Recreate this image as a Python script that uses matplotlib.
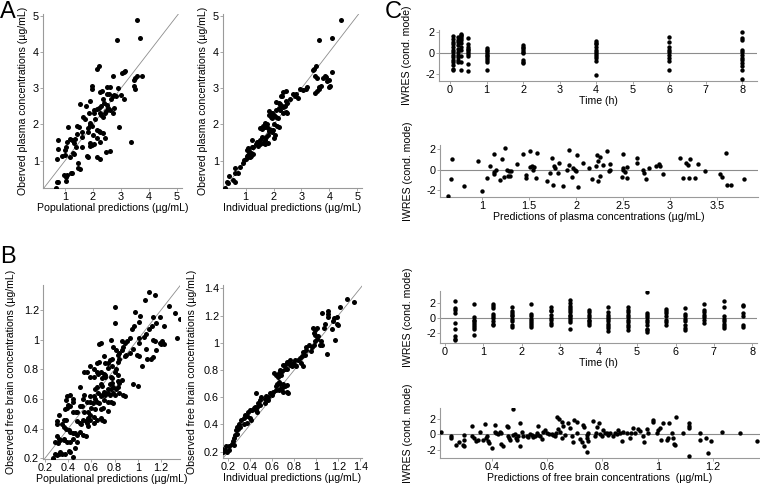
import numpy as np
import matplotlib
matplotlib.use('Agg')
import matplotlib.pyplot as plt
from matplotlib.ticker import FuncFormatter

plt.rcParams['font.family'] = ['Liberation Sans', 'DejaVu Sans']
plt.rcParams['font.size'] = 7.6
plt.rcParams['axes.unicode_minus'] = False

# ---- panel A: plasma, (prediction, observed) ----
a1_pairs = [
    (3.58, 4.89), (3.69, 4.40), (2.86, 4.33), (2.20, 3.61), (2.13, 3.54), (3.16, 3.49), (3.10, 3.45),
    (3.03, 3.43), (3.57, 3.33), (3.51, 3.27), (3.76, 3.35), (3.46, 3.24), (2.72, 3.33), (1.98, 3.07),
    (1.98, 2.98), (2.51, 3.03), (2.61, 3.03), (2.31, 2.92), (2.25, 2.89), (2.88, 3.00), (3.46, 3.07),
    (3.49, 2.98), (2.51, 2.84), (2.57, 2.84), (2.70, 2.80), (2.76, 2.82), (2.82, 2.80), (3.00, 2.82),
    (3.10, 2.69), (1.53, 2.56), (1.89, 2.64), (1.75, 2.52), (2.37, 2.70), (2.20, 2.45), (2.15, 2.42),
    (2.05, 2.40), (2.55, 2.45), (2.60, 2.40), (2.75, 2.45), (1.86, 2.31), (2.03, 2.33), (2.72, 2.31),
    (2.24, 2.31), (2.30, 2.27), (2.42, 2.31), (2.35, 2.20), (1.65, 2.22), (1.71, 2.16), (2.45, 2.36),
    (2.30, 2.50), (1.44, 1.96), (1.50, 1.94), (1.10, 1.93), (1.89, 1.99), (1.95, 1.96), (1.83, 1.90),
    (2.93, 1.94), (2.13, 1.85), (2.20, 1.82), (2.24, 1.78), (1.44, 1.74), (1.59, 1.79), (1.83, 1.78),
    (2.00, 1.71), (2.36, 1.76), (1.59, 1.65), (2.13, 1.62), (2.42, 1.64), (1.18, 1.59), (1.24, 1.57),
    (1.06, 1.53), (1.32, 1.50), (0.76, 1.56), (1.89, 1.48), (1.98, 1.43), (2.05, 1.45), (3.37, 1.53),
    (2.24, 1.53), (1.04, 1.39), (1.41, 1.39), (1.89, 1.41), (1.62, 1.39), (0.76, 1.31), (1.00, 1.30),
    (1.30, 1.20), (1.32, 1.19), (0.88, 1.13), (1.00, 1.16), (1.18, 1.11), (1.77, 1.13), (1.83, 1.11),
    (2.13, 1.09), (2.24, 1.04), (0.70, 1.04), (2.48, 1.25), (2.60, 1.27), (1.47, 0.95), (1.45, 0.79),
    (1.53, 0.77), (1.20, 0.65), (1.26, 0.67), (1.06, 0.60), (0.96, 0.60), (1.02, 0.56), (1.02, 0.44),
    (0.70, 0.42), (0.74, 0.40), (0.68, 0.26), (1.90, 2.05), (2.08, 2.15), (2.50, 2.55), (2.40, 2.60),
    (2.65, 2.70), (1.35, 1.60),
]

a2_pairs = [
    (4.40, 4.89), (4.08, 4.40), (3.63, 4.33), (3.52, 3.61), (3.45, 3.54), (3.40, 3.50), (4.10, 3.44),
    (3.86, 3.33), (3.77, 3.29), (3.89, 3.31), (3.98, 3.24), (3.93, 3.19), (3.50, 3.33), (3.57, 3.27),
    (3.63, 3.04), (3.70, 3.07), (3.98, 3.04), (4.04, 3.07), (3.50, 2.87), (3.56, 2.92), (3.63, 2.98),
    (3.21, 3.04), (3.18, 2.98), (2.94, 2.98), (3.06, 2.94), (2.76, 2.80), (2.70, 2.84), (2.82, 2.84),
    (2.58, 2.70), (2.88, 2.73), (2.35, 2.89), (2.44, 2.92), (2.25, 2.80), (2.31, 2.78), (2.10, 2.61),
    (2.18, 2.59), (2.23, 2.57), (2.44, 2.64), (2.49, 2.59), (2.29, 2.52), (2.35, 2.48), (2.40, 2.50),
    (2.44, 2.34), (2.49, 2.31), (2.35, 2.31), (2.10, 2.41), (2.18, 2.45), (2.23, 2.41), (1.96, 2.31),
    (2.02, 2.27), (1.85, 2.27), (1.89, 2.22), (1.93, 2.18), (1.85, 2.36), (1.93, 2.33), (2.10, 2.22),
    (2.17, 2.18), (2.13, 1.96), (2.20, 1.93), (2.01, 2.02), (1.71, 2.04), (1.77, 2.00), (1.63, 1.96),
    (1.69, 1.93), (1.60, 1.90), (1.51, 1.90), (1.57, 1.87), (1.81, 1.90), (1.89, 1.85), (1.85, 1.81),
    (1.99, 1.85), (1.93, 1.78), (2.05, 1.71), (2.01, 1.62), (1.81, 1.71), (1.73, 1.65), (1.69, 1.57),
    (1.57, 1.65), (1.51, 1.57), (1.45, 1.53), (1.81, 1.50), (1.63, 1.48), (1.69, 1.46), (1.51, 1.46),
    (1.45, 1.41), (1.39, 1.53), (1.37, 1.46), (1.21, 1.56), (1.27, 1.39), (1.21, 1.37), (1.10, 1.34),
    (1.04, 1.30), (1.13, 1.28), (1.18, 1.22), (1.13, 1.19), (1.07, 1.16), (1.25, 1.19), (1.19, 1.13),
    (1.15, 1.09), (1.10, 1.11), (1.04, 1.13), (1.01, 1.04), (0.94, 1.02), (0.89, 0.93), (0.80, 0.83),
    (0.62, 0.79), (0.74, 0.67), (0.60, 0.65), (0.42, 0.57), (0.54, 0.46), (0.32, 0.42), (0.35, 0.39),
    (0.26, 0.26), (0.60, 0.42),
]

# ---- panel B: free brain, (prediction, observed) ----
b1_pairs = [
    (1.10, 1.32), (1.15, 1.30), (1.06, 1.27), (1.27, 1.23), (0.80, 1.22), (1.32, 1.18), (0.98, 1.19),
    (1.19, 1.15), (1.13, 1.15), (1.02, 1.16), (0.80, 1.11), (1.01, 1.12), (1.36, 1.14), (0.97, 1.09),
    (1.12, 1.09), (1.23, 1.09), (1.16, 1.11), (1.10, 1.07), (0.95, 1.07), (1.05, 1.02), (1.07, 1.04),
    (1.01, 1.01), (1.34, 1.01), (0.93, 1.01), (0.91, 0.99), (0.77, 1.00), (0.86, 0.99), (0.89, 0.98),
    (0.68, 0.98), (1.01, 0.98), (1.13, 1.00), (1.15, 0.99), (1.21, 0.99), (1.20, 0.97), (1.19, 0.98),
    (1.23, 0.97), (0.67, 0.97), (0.79, 0.95), (0.81, 0.93), (0.87, 0.95), (0.86, 0.93), (0.96, 0.94),
    (1.07, 0.94), (1.16, 0.93), (0.71, 0.89), (0.83, 0.90), (0.84, 0.91), (0.89, 0.89), (0.90, 0.90),
    (0.93, 0.91), (0.99, 0.90), (1.01, 0.89), (0.78, 0.87), (0.76, 0.86), (0.67, 0.85), (0.65, 0.84),
    (0.72, 0.84), (0.74, 0.84), (0.84, 0.87), (0.83, 0.85), (1.08, 0.87), (1.11, 0.87), (1.13, 0.88),
    (1.04, 0.82), (0.59, 0.82), (0.62, 0.80), (0.54, 0.78), (0.56, 0.78), (0.65, 0.78), (0.66, 0.77),
    (0.68, 0.78), (0.71, 0.77), (0.72, 0.76), (0.80, 0.78), (0.81, 0.80), (0.74, 0.81), (0.78, 0.82),
    (0.59, 0.75), (0.62, 0.75), (0.69, 0.74), (0.72, 0.75), (0.77, 0.75), (0.78, 0.74), (0.83, 0.76),
    (0.83, 0.72), (0.84, 0.71), (0.86, 0.73), (0.68, 0.70), (0.69, 0.69), (0.76, 0.70), (0.78, 0.71),
    (0.96, 0.70), (1.00, 0.69), (0.50, 0.68), (0.63, 0.67), (0.65, 0.68), (0.74, 0.67), (0.77, 0.67),
    (0.79, 0.68), (0.81, 0.67), (0.83, 0.68), (0.71, 0.65), (0.72, 0.64), (0.72, 0.63), (0.74, 0.64),
    (0.76, 0.63), (0.79, 0.64), (0.80, 0.63), (0.84, 0.64), (0.87, 0.63), (0.89, 0.62), (0.42, 0.63),
    (0.44, 0.60), (0.38, 0.59), (0.39, 0.62), (0.54, 0.63), (0.53, 0.60), (0.59, 0.62), (0.62, 0.62),
    (0.63, 0.60), (0.66, 0.64), (0.68, 0.62), (0.69, 0.63), (0.56, 0.58), (0.59, 0.58), (0.61, 0.57),
    (0.65, 0.58), (0.67, 0.57), (0.71, 0.59), (0.74, 0.58), (0.77, 0.58), (0.79, 0.57), (0.44, 0.58),
    (0.42, 0.55), (0.40, 0.56), (0.50, 0.55), (0.52, 0.55), (0.39, 0.54), (0.37, 0.53), (0.47, 0.51),
    (0.48, 0.51), (0.44, 0.51), (0.54, 0.51), (0.57, 0.51), (0.60, 0.54), (0.63, 0.53), (0.68, 0.53),
    (0.70, 0.54), (0.74, 0.52), (0.59, 0.49), (0.59, 0.46), (0.57, 0.47), (0.62, 0.48), (0.65, 0.46),
    (0.68, 0.47), (0.69, 0.46), (0.71, 0.45), (0.53, 0.46), (0.55, 0.45), (0.48, 0.45), (0.50, 0.44),
    (0.51, 0.43), (0.36, 0.46), (0.38, 0.46), (0.32, 0.49), (0.30, 0.45), (0.30, 0.43), (0.35, 0.43),
    (0.56, 0.44), (0.57, 0.42), (0.62, 0.44), (0.36, 0.41), (0.38, 0.40), (0.41, 0.39), (0.42, 0.38),
    (0.44, 0.37), (0.46, 0.37), (0.48, 0.36), (0.50, 0.38), (0.53, 0.36), (0.55, 0.35), (0.44, 0.33),
    (0.42, 0.31), (0.30, 0.35), (0.32, 0.33), (0.33, 0.32), (0.36, 0.33), (0.36, 0.32), (0.29, 0.31),
    (0.31, 0.30), (0.39, 0.31), (0.46, 0.27), (0.32, 0.23), (0.33, 0.24), (0.35, 0.23), (0.37, 0.23),
    (0.29, 0.23), (0.30, 0.22), (0.41, 0.25), (0.42, 0.24), (0.44, 0.21), (0.27, 0.20), (0.27, 0.19),
    (0.48, 0.31),
]

b2_pairs = [
    (1.34, 1.30), (1.28, 1.32), (1.22, 1.26), (1.05, 1.22), (1.11, 1.23), (1.11, 1.21), (1.11, 1.19),
    (1.16, 1.18), (1.19, 1.19), (1.15, 1.16), (1.14, 1.10), (1.19, 1.14), (1.20, 1.13), (1.08, 1.14),
    (1.07, 1.11), (0.97, 1.11), (0.99, 1.09), (1.01, 1.11), (0.98, 1.07), (0.99, 1.06), (1.01, 1.03),
    (1.02, 1.05), (1.04, 1.01), (1.05, 0.98), (1.03, 0.98), (0.99, 1.01), (0.98, 0.98), (0.96, 0.97),
    (0.93, 0.98), (0.91, 0.97), (0.91, 0.95), (1.17, 1.02), (1.10, 0.92), (0.95, 0.94), (0.88, 0.93),
    (0.90, 0.91), (0.87, 0.90), (0.85, 0.89), (0.83, 0.87), (0.81, 0.87), (0.79, 0.85), (0.81, 0.84),
    (0.82, 0.83), (0.78, 0.83), (0.76, 0.84), (0.75, 0.85), (0.76, 0.87), (0.73, 0.86), (0.72, 0.84),
    (0.73, 0.81), (0.72, 0.81), (0.67, 0.80), (0.69, 0.79), (0.70, 0.84), (0.66, 0.78), (0.64, 0.76),
    (0.63, 0.76), (0.65, 0.75), (0.66, 0.71), (0.67, 0.70), (0.64, 0.70), (0.63, 0.68), (0.70, 0.70),
    (0.72, 0.68), (0.73, 0.69), (0.69, 0.67), (0.67, 0.66), (0.66, 0.65), (0.73, 0.64), (0.74, 0.63),
    (0.70, 0.64), (0.61, 0.64), (0.63, 0.65), (0.58, 0.63), (0.60, 0.62), (0.56, 0.60), (0.54, 0.61),
    (0.53, 0.59), (0.50, 0.60), (0.49, 0.58), (0.56, 0.58), (0.53, 0.56), (0.47, 0.56), (0.49, 0.54),
    (0.46, 0.53), (0.44, 0.53), (0.43, 0.52), (0.42, 0.51), (0.45, 0.51), (0.46, 0.49), (0.40, 0.51),
    (0.38, 0.49), (0.35, 0.47), (0.37, 0.46), (0.34, 0.45), (0.32, 0.43), (0.40, 0.45), (0.41, 0.43),
    (0.37, 0.41), (0.34, 0.40), (0.30, 0.40), (0.31, 0.38), (0.29, 0.37), (0.28, 0.38), (0.27, 0.36),
    (0.28, 0.33), (0.26, 0.32), (0.25, 0.30), (0.24, 0.28), (0.23, 0.26), (0.25, 0.25), (0.21, 0.24),
    (0.18, 0.24), (0.17, 0.21), (0.14, 0.22), (0.15, 0.20), (0.19, 0.20), (0.21, 0.21), (0.45, 0.63),
    (0.68, 0.76), (0.62, 0.78), (0.86, 0.85), (0.88, 0.83),
]

# ---- panel C: IWRES ----
c1_times = [0.083, 0.22, 0.3, 0.5, 1, 2, 4, 6, 8]
c1_iwres = [
    [1.61, 1.39, 1.06, 0.90, 0.58, 0.32, 0.10, -0.13, -0.39, -0.61, -0.84, -1.16, -1.48, -1.65],
    [1.55, 1.29, 1.06, 0.74, 0.42, 0.10, -0.13, -0.39, -0.61, -0.84],
    [1.87, 1.77, 1.61, 1.45, 1.23, 0.97, 0.58, 0.26, -0.23, -0.87, -1.60],
    [1.48, 0.84, 0.58, 0.42, 0.26, 0.10, -0.06, -0.23, -1.03, -1.74],
    [0.48, 0.32, 0.16, 0.00, -0.16, -0.32, -0.45, -0.65, -0.87, -1.58],
    [0.77, 0.61, 0.45, 0.29, 0.13, -0.03, -0.67, -0.83, -0.99],
    [1.18, 1.02, 0.86, 0.61, 0.35, 0.13, -0.10, -0.29, -0.51, -0.77, -2.08],
    [1.57, 1.09, 0.61, 0.29, 0.13, -0.19, -0.45, -0.77, -1.57],
    [2.05, 1.41, 1.25, 0.29, 0.13, -0.19, -0.45, -0.67, -0.99, -1.25, -1.63, -2.50],
]

c2_pairs = [
    (0.63, -2.54), (0.67, -0.88), (0.68, 1.01), (0.80, -1.56), (0.95, 0.81), (1.00, -2.08), (1.05, -0.85),
    (1.08, 0.33), (1.12, 1.50), (1.12, -0.23), (1.13, -0.39), (1.15, -0.07), (1.19, -1.07), (1.21, 1.07),
    (1.24, 2.11), (1.23, -0.72), (1.26, 0.00), (1.27, -0.65), (1.30, -0.62), (1.29, -0.16), (1.31, -0.16),
    (1.37, 0.52), (1.43, 1.53), (1.47, -0.55), (1.47, -0.81), (1.51, 0.26), (1.51, 1.79), (1.53, 0.33),
    (1.54, -0.07), (1.55, 0.26), (1.57, -0.81), (1.58, 1.59), (1.69, -1.11), (1.72, -0.33), (1.74, 1.14),
    (1.76, 0.33), (1.77, 0.10), (1.75, -1.53), (1.81, -0.33), (1.82, 0.59), (1.86, -1.63), (1.90, -0.07),
    (1.92, 0.42), (1.92, 1.95), (1.96, -0.75), (1.97, 0.10), (1.99, 0.00), (2.00, -0.13), (2.01, 1.37),
    (2.02, -1.69), (2.07, 0.65), (2.14, 0.16), (2.17, -0.91), (2.21, 0.33), (2.22, 1.46), (2.23, 0.85),
    (2.23, -1.14), (2.26, 1.24), (2.26, -0.59), (2.29, 0.42), (2.33, 1.76), (2.35, -0.16), (2.36, 0.49),
    (2.36, 0.00), (2.50, 0.00), (2.52, -0.23), (2.50, 0.10), (2.50, 1.56), (2.49, -0.72), (2.54, 0.20),
    (2.54, -0.81), (2.65, 1.17), (2.65, 0.68), (2.71, -0.07), (2.72, -0.33), (2.75, -0.94), (2.78, 0.16),
    (2.85, 0.33), (2.88, 0.49), (2.90, 0.33), (2.93, -0.46), (3.11, 1.14), (3.14, -0.81), (3.17, 0.65),
    (3.19, 0.42), (3.20, -0.81), (3.21, 1.04), (3.27, -0.78), (3.30, 0.52), (3.38, -0.16), (3.53, -0.42),
    (3.56, -0.72), (3.60, 1.63), (3.61, -1.53), (3.65, -1.53), (3.79, -0.88),
]

c3_times = [0.25, 0.75, 1.25, 1.75, 2.25, 2.75, 3.25, 3.75, 4.25, 4.75, 5.25, 5.75, 6.25, 6.75, 7.25, 7.75]
c3_iwres = [
    [2.26, 1.30, 1.00, 0.65, -0.65, -1.43, -2.39, -2.70, -2.91],
    [1.83, 0.09, -0.22, -0.43, -0.65, -0.91, -1.17, -1.43, -2.26],
    [1.83, 1.61, 1.30, 0.52, 0.30, 0.00, -0.43, -0.74, -0.96],
    [1.39, 0.96, 0.65, 0.43, 0.22, -0.13, -0.43, -0.87, -1.17],
    [1.83, 0.52, 0.22, -0.13, -0.43, -0.65, -0.87, -1.17],
    [1.39, 1.09, 0.87, 0.43, 0.00, -0.30, -0.65, -0.87],
    [2.30, 1.96, 1.61, 1.30, 1.00, 0.74, 0.43, 0.22, 0.00, -0.30, -0.57, -1.43],
    [1.00, 0.74, 0.43, 0.13, -0.22, -0.43, -0.65, -0.87],
    [1.39, 0.74, 0.43, 0.13, -0.13, -0.43, -0.74, -1.09, -1.35, -1.65],
    [1.39, 1.09, 0.74, 0.43, 0.13, -0.22, -0.57, -0.87, -1.17, -1.52],
    [3.35, 0.65, 0.35, 0.09, -0.22, -0.57, -0.87, -1.39, -1.61, -1.83],
    [1.17, 0.87, 0.65, 0.22, -0.22, -0.52, -0.87],
    [1.30, 0.57, 0.22, -0.13, -0.43, -0.87, -1.30, -1.61],
    [1.83, 1.00, 0.74, 0.43, 0.13, -0.22, -0.65],
    [2.26, 1.39, 0.22, -0.13, -0.43, -0.74, -1.00, -1.30],
    [1.74, 1.52, 0.65, 0.22, -0.87, -1.17],
]

c4_pairs = [
    (0.217, 0.39), (0.252, -0.26), (0.252, -0.48), (0.271, -1.43), (0.280, -1.04), (0.295, -1.39),
    (0.301, -1.48), (0.301, -0.13), (0.301, -0.70), (0.328, 1.13), (0.328, -0.17), (0.336, -0.48),
    (0.343, -0.91), (0.352, -0.70), (0.358, 0.39), (0.370, -0.70), (0.376, 1.35), (0.380, -0.48),
    (0.384, -0.26), (0.388, -0.91), (0.390, -1.13), (0.402, -1.74), (0.410, 1.26), (0.412, 0.30),
    (0.416, 0.17), (0.424, 0.09), (0.430, 0.39), (0.434, 0.26), (0.434, -1.26), (0.442, -1.48),
    (0.454, 1.13), (0.457, 0.96), (0.458, -0.17), (0.464, -0.48), (0.466, -0.78), (0.478, 3.35),
    (0.476, -0.09), (0.484, 0.09), (0.488, -0.48), (0.490, -0.70), (0.496, -0.17), (0.502, 1.48),
    (0.502, -1.57), (0.508, 0.39), (0.514, -0.26), (0.526, -0.17), (0.532, -0.35), (0.538, 0.09),
    (0.544, -0.04), (0.550, -0.35), (0.556, -0.17), (0.562, 0.26), (0.568, -0.04), (0.568, 1.13),
    (0.574, -0.26), (0.580, -0.61), (0.586, 0.39), (0.593, 0.61), (0.599, 0.17), (0.608, 0.09),
    (0.617, 0.09), (0.623, -0.04), (0.629, -0.17), (0.632, 0.17), (0.637, 2.35), (0.643, 2.00),
    (0.641, 0.70), (0.647, 0.39), (0.653, 1.70), (0.655, -0.48), (0.659, 1.13), (0.665, -0.04),
    (0.677, 1.57), (0.683, 0.83), (0.689, -0.26), (0.692, -1.04), (0.697, 1.91), (0.707, 1.70),
    (0.709, 0.17), (0.719, -0.61), (0.725, -1.04), (0.729, 1.26), (0.734, 1.04), (0.733, -1.48),
    (0.743, -0.04), (0.745, -0.48), (0.743, -2.26), (0.747, -0.91), (0.749, 0.17), (0.765, 1.83),
    (0.773, -0.26), (0.777, 0.26), (0.781, 1.04), (0.789, 1.48), (0.791, 0.09), (0.797, -0.26),
    (0.803, 0.61), (0.809, 0.26), (0.815, 0.17), (0.821, -0.04), (0.827, 0.26), (0.837, -0.26),
    (0.845, 0.26), (0.851, 0.09), (0.857, 0.61), (0.863, 0.26), (0.869, -0.91), (0.875, 0.39),
    (0.887, 0.17), (0.899, -0.48), (0.903, 0.17), (0.911, 0.83), (0.918, 0.17), (0.930, 0.70),
    (0.935, 0.52), (0.945, -0.17), (0.950, -1.04), (0.960, 0.70), (0.966, 0.17), (0.981, 1.70),
    (0.984, 1.91), (0.996, 0.17), (1.002, 0.61), (1.008, 0.91), (1.010, -0.70), (1.020, 1.48),
    (1.032, -0.70), (1.038, -0.48), (1.041, 1.48), (1.050, 0.17), (1.056, -0.48), (1.058, -1.22),
    (1.062, -1.35), (1.065, 2.26), (1.092, 0.17), (1.114, 1.48), (1.114, 1.17), (1.114, 0.83),
    (1.114, -2.87), (1.152, 0.26), (1.152, -0.78), (1.174, -0.48), (1.182, -2.43), (1.191, -0.83),
    (1.230, 0.30), (1.298, 0.26), (1.357, -0.83),
]

W, H = 760, 487
AXIS_GREY = '#9a9a9a'
fmt = FuncFormatter(lambda v, p: f'{v:g}')

fig = plt.figure(figsize=(W / 100, H / 100), dpi=100)


def make_axes(l, t, r, b):
    ax = fig.add_axes([l / W, 1 - b / H, (r - l) / W, (b - t) / H])
    for s in ['top', 'right']:
        ax.spines[s].set_visible(False)
    for s in ['left', 'bottom']:
        ax.spines[s].set_color(AXIS_GREY)
        ax.spines[s].set_linewidth(0.8)
    ax.tick_params(length=2, width=0.6, color=AXIS_GREY, pad=1, labelsize=7.8)
    ax.xaxis.set_major_formatter(fmt)
    ax.yaxis.set_major_formatter(fmt)
    return ax


def scatter_pairs(ax, pairs, size):
    arr = np.array(pairs)
    ax.scatter(arr[:, 0], arr[:, 1], s=size, color='black', linewidths=0, zorder=3)


def identity(ax, lo, hi):
    ax.plot([lo, hi], [lo, hi], color='#8c8c8c', lw=0.6, zorder=2)


def gof(ax, pairs, xlim, ylim, ticks_x, ticks_y, xlabel, ylabel, ylab_x):
    identity(ax, 0, 6)
    scatter_pairs(ax, pairs, 13)
    ax.set_xlim(xlim)
    ax.set_ylim(ylim)
    ax.set_xticks(ticks_x)
    ax.set_yticks(ticks_y)
    ax.set_xlabel(xlabel, labelpad=0.5)
    ax.set_ylabel(ylabel)
    ax.yaxis.set_label_coords(ylab_x, 0.5)


def iwres(ax, xlim, ylim, ticks_x, xlabel):
    ax.axhline(0, color='#8c8c8c', lw=0.8, zorder=2)
    ax.set_xlim(xlim)
    ax.set_ylim(ylim)
    ax.set_xticks(ticks_x)
    ax.set_yticks([-2, 0, 2])
    ax.set_xlabel(xlabel, labelpad=0.5)
    ax.set_ylabel('IWRES (cond. mode)')
    ax.yaxis.set_label_coords(-0.085, 0.5)


def columns(ax, times, values):
    xs = np.concatenate([[t] * len(v) for t, v in zip(times, values)])
    ys = np.concatenate(values)
    ax.scatter(xs, ys, s=10, color='black', linewidths=0, zorder=3)


# A
ax = make_axes(43, 14, 182, 188)
gof(ax, a1_pairs, (0.214, 5.18), (0.247, 5.05), [1, 2, 3, 4, 5], [1, 2, 3, 4, 5],
    'Populational predictions (µg/mL)', 'Oberved plasma concentrations (µg/mL)', -0.11)
ax = make_axes(223, 14, 362, 188)
gof(ax, a2_pairs, (0.187, 5.17), (0.247, 5.05), [1, 2, 3, 4, 5], [1, 2, 3, 4, 5],
    'Individual predictions (µg/mL)', 'Oberved plasma concentrations (µg/mL)', -0.11)

# B
ax = make_axes(43, 285, 180, 459)
gof(ax, b1_pairs, (0.183, 1.364), (0.195, 1.369), [0.2, 0.4, 0.6, 0.8, 1, 1.2], [0.2, 0.4, 0.6, 0.8, 1, 1.2],
    'Populational predictions (µg/mL)', 'Observed free brain concentrations (µg/mL)', -0.2)
ax = make_axes(223, 285, 362, 458)
gof(ax, b2_pairs, (0.152, 1.416), (0.154, 1.424), [0.2, 0.4, 0.6, 0.8, 1, 1.2, 1.4],
    [0.2, 0.4, 0.6, 0.8, 1, 1.2, 1.4],
    'Individual predictions (µg/mL)', 'Observed free brain concentrations (µg/mL)', -0.19)

# C
ax = make_axes(439, 30, 757, 81)
iwres(ax, (-0.30, 8.40), (-2.67, 2.22), range(0, 9), 'Time (h)')
columns(ax, c1_times, c1_iwres)

ax = make_axes(440, 145, 758, 197)
iwres(ax, (0.549, 3.94), (-2.68, 2.39), [1, 1.5, 2, 2.5, 3, 3.5],
      'Predictions of plasma concentrations (µg/mL)')
scatter_pairs(ax, c2_pairs, 10)

ax = make_axes(440, 291, 757, 343)
iwres(ax, (-0.13, 8.12), (-3.27, 3.53), range(0, 9), 'Time (h)')
columns(ax, c3_times, c3_iwres)

ax = make_axes(440, 408, 760, 458)
iwres(ax, (0.213, 1.369), (-3.08, 3.47), [0.4, 0.6, 0.8, 1, 1.2],
      'Predictions of free brain concentrations  (µg/mL)')
scatter_pairs(ax, c4_pairs, 10)

# panel letters
fig.text(0 / W, 1 - 1 / H, 'A', fontsize=17, va='top', ha='left')
fig.text(0 / W, 1 - 246 / H, 'B', fontsize=17, va='top', ha='left')
fig.text(385 / W, 1 - 1 / H, 'C', fontsize=17, va='top', ha='left')

fig.savefig('out.png', dpi=100)
